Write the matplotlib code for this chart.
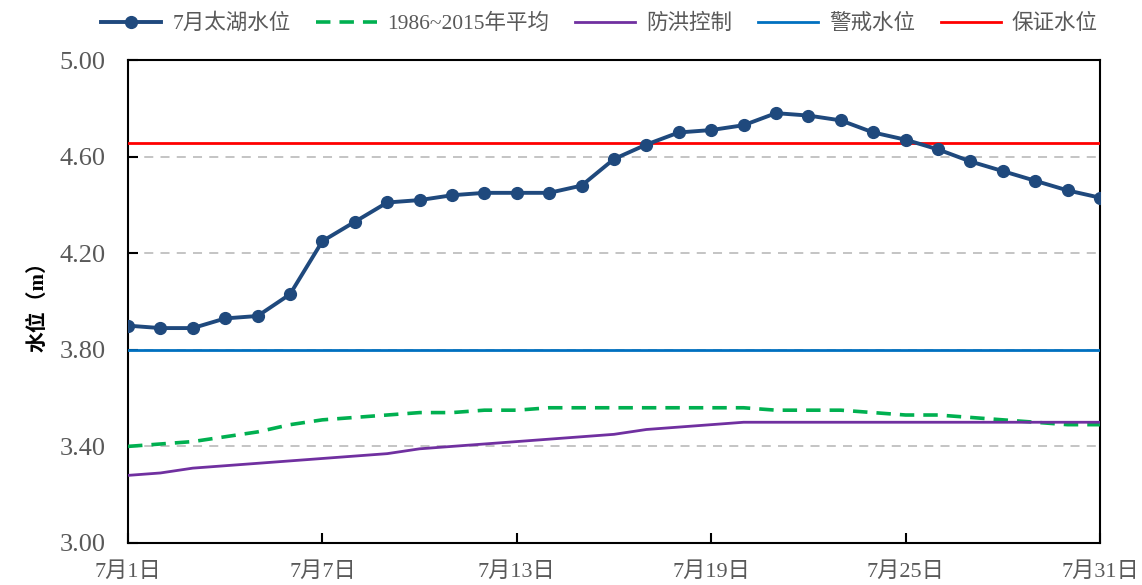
import numpy as np
import matplotlib
matplotlib.use("Agg")
import matplotlib.pyplot as plt

plt.rcParams['font.family'] = ['Liberation Serif', 'Noto Sans CJK SC']

days = np.arange(1, 32)
taihu = [3.90, 3.89, 3.89, 3.93, 3.94, 4.03, 4.25, 4.33, 4.41, 4.42,
         4.44, 4.45, 4.45, 4.45, 4.48, 4.59, 4.65, 4.70, 4.71, 4.73,
         4.78, 4.77, 4.75, 4.70, 4.67, 4.63, 4.58, 4.54, 4.50, 4.46, 4.43]
avg = [3.40, 3.41, 3.42, 3.44, 3.46, 3.49, 3.51, 3.52, 3.53, 3.54,
       3.54, 3.55, 3.55, 3.56, 3.56, 3.56, 3.56, 3.56, 3.56, 3.56,
       3.55, 3.55, 3.55, 3.54, 3.53, 3.53, 3.52, 3.51, 3.50, 3.49, 3.49]
flood = [3.28, 3.29, 3.31, 3.32, 3.33, 3.34, 3.35, 3.36, 3.37, 3.39,
         3.40, 3.41, 3.42, 3.43, 3.44, 3.45, 3.47, 3.48, 3.49, 3.50,
         3.50, 3.50, 3.50, 3.50, 3.50, 3.50, 3.50, 3.50, 3.50, 3.50, 3.50]
warn_level = 3.80
guar_level = 4.655
xticks = [1, 7, 13, 19, 25, 31]
xlabels = ['7月1日', '7月7日', '7月13日', '7月19日', '7月25日', '7月31日']
yticks = [3.00, 3.40, 3.80, 4.20, 4.60, 5.00]

txt = '#595959'

fig = plt.figure(figsize=(11.42, 5.85), dpi=100)
ax = fig.add_axes([0.1121, 0.0718, 0.8511, 0.8256])

for y in yticks[1:-1]:
    ax.axhline(y, color='#bfbfbf', lw=1.3, ls=(0, (5, 4)), zorder=1)

ax.plot(days, taihu, color='#1f497d', lw=2.8, marker='o', ms=8.5,
        label='7月太湖水位', zorder=5)
ax.plot(days, avg, color='#00b050', lw=2.6, ls=(0, (4, 2.5)),
        label='1986~2015年平均', zorder=4)
ax.plot(days, flood, color='#7030a0', lw=2.0, label='防洪控制', zorder=4)
ax.plot([days[0], days[-1]], [warn_level, warn_level], color='#0070c0', lw=2.0,
        label='警戒水位', zorder=3)
ax.plot([days[0], days[-1]], [guar_level, guar_level], color='#ff0000', lw=2.0,
        label='保证水位', zorder=3)

ax.set_xlim(1, 31)
ax.set_ylim(3.0, 5.0)
ax.set_xticks(xticks)
ax.set_xticklabels(xlabels, fontsize=16)
ax.set_yticks(yticks)
ax.set_yticklabels(['%.2f' % v for v in yticks], fontsize=19)
ax.tick_params(axis='both', direction='in', length=7, width=1.5,
               labelcolor=txt)
ax.tick_params(axis='x', pad=14)
ax.tick_params(axis='y', pad=16)
for s in ax.spines.values():
    s.set_linewidth(1.5)
    s.set_color('black')

ax.set_ylabel('水位（m）', fontsize=15, fontweight='bold', color='black',
              labelpad=8)

fig.legend(loc='upper center', bbox_to_anchor=(0.525, 1.01), ncol=5,
           frameon=False, fontsize=15.5, labelcolor=txt, handlelength=2.8,
           columnspacing=1.2, handletextpad=0.5)

fig.savefig('out.png', dpi=100)
